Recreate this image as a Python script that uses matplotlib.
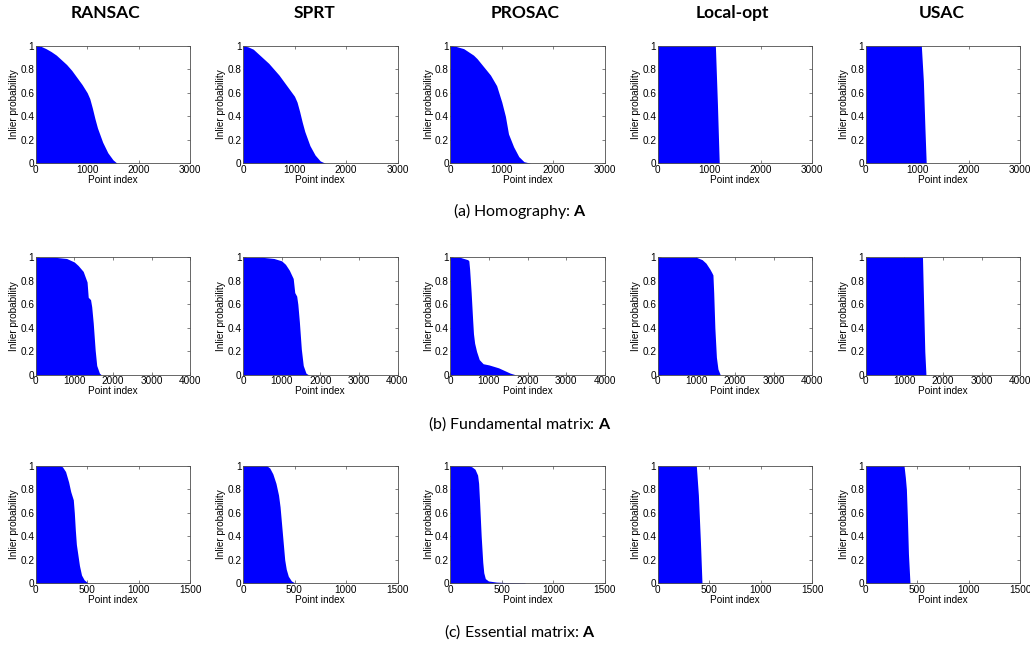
import matplotlib as mpl; mpl.use("Agg")
import matplotlib.pyplot as plt
from matplotlib.ticker import FormatStrFormatter

mpl.rcParams.update({
    "font.family": "sans-serif",
    "font.sans-serif": ["Liberation Sans", "DejaVu Sans"],
    "mathtext.fontset": "custom",
    "mathtext.rm": "Lato",
    "mathtext.bf": "Lato:bold",
})

METHODS = ["RANSAC", "SPRT", "PROSAC", "Local-opt", "USAC"]
CAPTIONS = ["(a) Homography: $\\mathbf{A}$",
            "(b) Fundamental matrix: $\\mathbf{A}$",
            "(c) Essential matrix: $\\mathbf{A}$"]
XMAX = [3000, 4000, 1500]
XTICKS = [[0, 1000, 2000, 3000], [0, 1000, 2000, 3000, 4000], [0, 500, 1000, 1500]]

# ── sorted inlier probability curves (point index, prob) ──
# (a) Homography
H_RANSAC_X = [0, 100, 200, 300, 400, 500, 600, 700, 800, 900, 1000, 1050, 1100, 1150, 1200, 1300, 1400, 1500, 1580]
H_RANSAC_Y = [1.0, 0.995, 0.975, 0.95, 0.92, 0.88, 0.84, 0.79, 0.73, 0.67, 0.60, 0.55, 0.47, 0.38, 0.30, 0.18, 0.09, 0.03, 0.0]
H_SPRT_X = [0, 100, 200, 300, 400, 500, 600, 700, 800, 900, 1000, 1050, 1100, 1150, 1200, 1300, 1400, 1500, 1600]
H_SPRT_Y = [1.0, 0.99, 0.97, 0.93, 0.89, 0.85, 0.80, 0.75, 0.69, 0.63, 0.57, 0.52, 0.44, 0.35, 0.27, 0.15, 0.07, 0.02, 0.0]
H_PROSAC_X = [0, 100, 260, 450, 520, 650, 780, 900, 1000, 1070, 1130, 1230, 1330, 1430, 1560]
H_PROSAC_Y = [1.0, 0.995, 0.975, 0.92, 0.89, 0.82, 0.75, 0.66, 0.52, 0.40, 0.25, 0.14, 0.057, 0.014, 0.0]
H_LOCAL_X = [0, 1120, 1160, 1195]
H_LOCAL_Y = [1.0, 1.0, 0.5, 0.0]
H_USAC_X = [0, 1080, 1120, 1150, 1175]
H_USAC_Y = [1.0, 1.0, 0.7, 0.3, 0.0]

# (b) Fundamental matrix
F_RANSAC_X = [0, 500, 800, 1000, 1100, 1230, 1330, 1360, 1420, 1450, 1490, 1540, 1580, 1650, 1700]
F_RANSAC_Y = [1.0, 1.0, 0.99, 0.96, 0.93, 0.88, 0.79, 0.66, 0.64, 0.58, 0.44, 0.21, 0.08, 0.015, 0.0]
F_SPRT_X = [0, 500, 800, 1000, 1100, 1200, 1300, 1340, 1390, 1420, 1460, 1510, 1560, 1630, 1700]
F_SPRT_Y = [1.0, 1.0, 0.99, 0.97, 0.94, 0.89, 0.82, 0.70, 0.67, 0.60, 0.45, 0.22, 0.08, 0.015, 0.0]
F_PROSAC_X = [0, 250, 350, 450, 480, 500, 520, 540, 560, 580, 600, 630, 680, 750, 850, 1000, 1100, 1250, 1350, 1450, 1550, 1700]
F_PROSAC_Y = [1.0, 1.0, 0.99, 0.98, 0.97, 0.90, 0.80, 0.70, 0.58, 0.46, 0.35, 0.27, 0.20, 0.13, 0.095, 0.085, 0.075, 0.06, 0.045, 0.03, 0.015, 0.0]
F_LOCAL_X = [0, 1000, 1150, 1250, 1350, 1400, 1430, 1450, 1480, 1520, 1560, 1620]
F_LOCAL_Y = [1.0, 1.0, 0.98, 0.95, 0.90, 0.87, 0.85, 0.70, 0.40, 0.15, 0.05, 0.0]
F_USAC_X = [0, 1470, 1500, 1530, 1560]
F_USAC_Y = [1.0, 1.0, 0.6, 0.2, 0.0]

# (c) Essential matrix
E_RANSAC_X = [0, 240, 260, 290, 320, 340, 365, 375, 385, 395, 410, 425, 445, 470, 510]
E_RANSAC_Y = [1.0, 1.0, 0.99, 0.95, 0.86, 0.78, 0.71, 0.60, 0.45, 0.33, 0.24, 0.15, 0.07, 0.03, 0.0]
E_SPRT_X = [0, 230, 260, 290, 320, 345, 360, 375, 390, 405, 420, 440, 470, 510]
E_SPRT_Y = [1.0, 1.0, 0.98, 0.93, 0.85, 0.75, 0.65, 0.50, 0.35, 0.20, 0.12, 0.06, 0.02, 0.0]
E_PROSAC_X = [0, 180, 210, 240, 265, 275, 285, 300, 315, 325, 340, 370, 450, 550, 720, 730]
E_PROSAC_Y = [1.0, 1.0, 0.99, 0.97, 0.92, 0.85, 0.68, 0.40, 0.18, 0.09, 0.04, 0.02, 0.01, 0.006, 0.003, 0.0]
E_LOCAL_X = [0, 375, 395, 415, 430]
E_LOCAL_Y = [1.0, 1.0, 0.75, 0.35, 0.0]
E_USAC_X = [0, 372, 385, 395, 405, 415, 430]
E_USAC_Y = [1.0, 1.0, 0.9, 0.8, 0.55, 0.25, 0.0]

CURVES = [
    [(H_RANSAC_X, H_RANSAC_Y), (H_SPRT_X, H_SPRT_Y), (H_PROSAC_X, H_PROSAC_Y), (H_LOCAL_X, H_LOCAL_Y), (H_USAC_X, H_USAC_Y)],
    [(F_RANSAC_X, F_RANSAC_Y), (F_SPRT_X, F_SPRT_Y), (F_PROSAC_X, F_PROSAC_Y), (F_LOCAL_X, F_LOCAL_Y), (F_USAC_X, F_USAC_Y)],
    [(E_RANSAC_X, E_RANSAC_Y), (E_SPRT_X, E_SPRT_Y), (E_PROSAC_X, E_PROSAC_Y), (E_LOCAL_X, E_LOCAL_Y), (E_USAC_X, E_USAC_Y)],
]

# ── layout (pixels of a 1030x646 canvas) ──────────────────────────────────────
W, H = 1030, 646
fig = plt.figure(figsize=(W / 100, H / 100), dpi=100)

COL_LEFT = [35.7, 243.0, 450.3, 657.7, 865.7]
AX_W = 154.5
ROW_TOP = [45.7, 257.3, 465.7]
AX_H = 117.6
TITLE_X = [105, 315, 525, 732, 942]
CAPTION_Y = [211, 424, 632]

BOX = "#4d4d4d"

for r in range(3):
    for c in range(5):
        x0 = COL_LEFT[c] / W
        y0 = 1 - (ROW_TOP[r] + AX_H) / H
        ax = fig.add_axes([x0, y0, AX_W / W, AX_H / H])
        xs, ys = CURVES[r][c]
        ax.fill_between(xs, ys, 0, color="#0000ff", lw=0, zorder=2)
        ax.set_xlim(0, XMAX[r])
        ax.set_ylim(0, 1)
        ax.set_xticks(XTICKS[r])
        ax.set_yticks([0, 0.2, 0.4, 0.6, 0.8, 1.0])
        ax.yaxis.set_major_formatter(FormatStrFormatter("%g"))
        ax.tick_params(direction="in", length=2.5, width=0.5, colors=BOX,
                       labelcolor="black", labelsize=7.2, pad=1,
                       top=True, right=True)
        for s in ax.spines.values():
            s.set_color(BOX)
            s.set_linewidth(0.6)
        ax.set_xlabel("Point index", fontsize=7.2, labelpad=0)
        ax.set_ylabel("Inlier probability", fontsize=7.2, labelpad=1)

for c, name in enumerate(METHODS):
    fig.text(TITLE_X[c] / W, 1 - 13 / H, name, family="Lato", fontweight="bold",
             fontsize=12.5, ha="center", va="center")

for r, cap in enumerate(CAPTIONS):
    fig.text(520 / W, 1 - CAPTION_Y[r] / H, cap, family="Lato",
             fontsize=11.5, ha="center", va="center")

fig.savefig("out.png", dpi=100, facecolor="white")
